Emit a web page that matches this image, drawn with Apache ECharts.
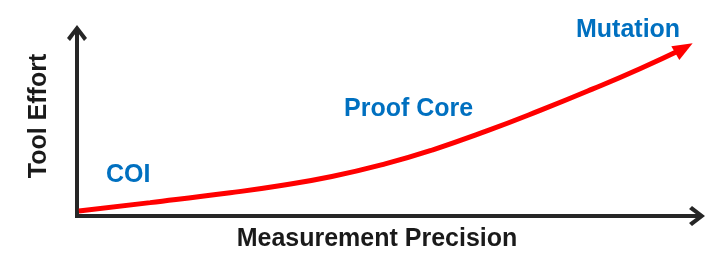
<!DOCTYPE html>
<html><head><meta charset="utf-8">
<script src="https://cdn.jsdelivr.net/npm/echarts@6/dist/echarts.min.js"></script>
<style>html,body{margin:0;padding:0;background:#fff}#c{width:726px;height:263px}</style>
</head><body><div id="c"></div>
<script>
// Data
const precision = [0.3, 11.8, 24.7, 32.4, 41.1, 49.7, 57.4, 66.1, 74.7, 83.1, 90.8, 97.9];
const effort    = [2.7, 7.3, 12.7, 16.4, 21.6, 28.5, 36.2, 46.5, 57.7, 69.3, 80.5, 91.7];
const annotations = ['COI', 'Proof Core', 'Mutation'];
const xTitle = 'Measurement Precision';
const yTitle = 'Tool Effort';

const FONT = '"Liberation Sans", Arial, sans-serif';
const AXIS_COLOR = '#262626';
const chevron = 'path://M10 0 L20 13 L17 16 L10 6.5 L3 16 L0 13 Z';
const last = precision.length - 1;

const lineData = precision.map((x, i) => ({
  value: [x, effort[i]],
  symbol: i === last ? 'triangle' : 'none',
  symbolSize: [16, 20],
  symbolRotate: -60,
  itemStyle: { color: '#ff0000' }
}));

const axisCommon = {
  type: 'value', min: 0, max: 100,
  axisTick: { show: false }, axisLabel: { show: false }, splitLine: { show: false },
  axisLine: { show: true, symbol: ['none', chevron], symbolSize: [20, 18],
              lineStyle: { color: AXIS_COLOR, width: 4, cap: 'square' } },
  nameLocation: 'middle',
  nameTextStyle: { fontFamily: FONT, fontWeight: 'bold', fontSize: 25, color: '#1a1a1a' }
};

const chart = echarts.init(document.getElementById('c'), null, { renderer: 'canvas' });
chart.setOption({
  animation: false,
  backgroundColor: '#ffffff',
  grid: { left: 77, right: 29, top: 33, bottom: 47, containLabel: false },
  xAxis: Object.assign({}, axisCommon, {
    name: xTitle, nameGap: 11,
    nameTextStyle: Object.assign({}, axisCommon.nameTextStyle, { padding: [0, 20, 0, 0] })
  }),
  yAxis: Object.assign({}, axisCommon, {
    name: yTitle, nameGap: 25,
    nameTextStyle: Object.assign({}, axisCommon.nameTextStyle, { padding: [0, 0, 0, 17] })
  }),
  series: [{
    type: 'line', smooth: 0.5, showAllSymbol: true,
    data: lineData,
    lineStyle: { color: '#ff0000', width: 5 },
    z: 3
  }],
  graphic: [
    { type: 'text', left: 106, top: 163, style: { text: annotations[0], font: 'bold 25px ' + FONT, fill: '#0070c0' } },
    { type: 'text', left: 344, top: 97, style: { text: annotations[1], font: 'bold 25px ' + FONT, fill: '#0070c0' } },
    { type: 'text', left: 576, top: 18, style: { text: annotations[2], font: 'bold 25px ' + FONT, fill: '#0070c0' } }
  ]
});
</script>
</body></html>
